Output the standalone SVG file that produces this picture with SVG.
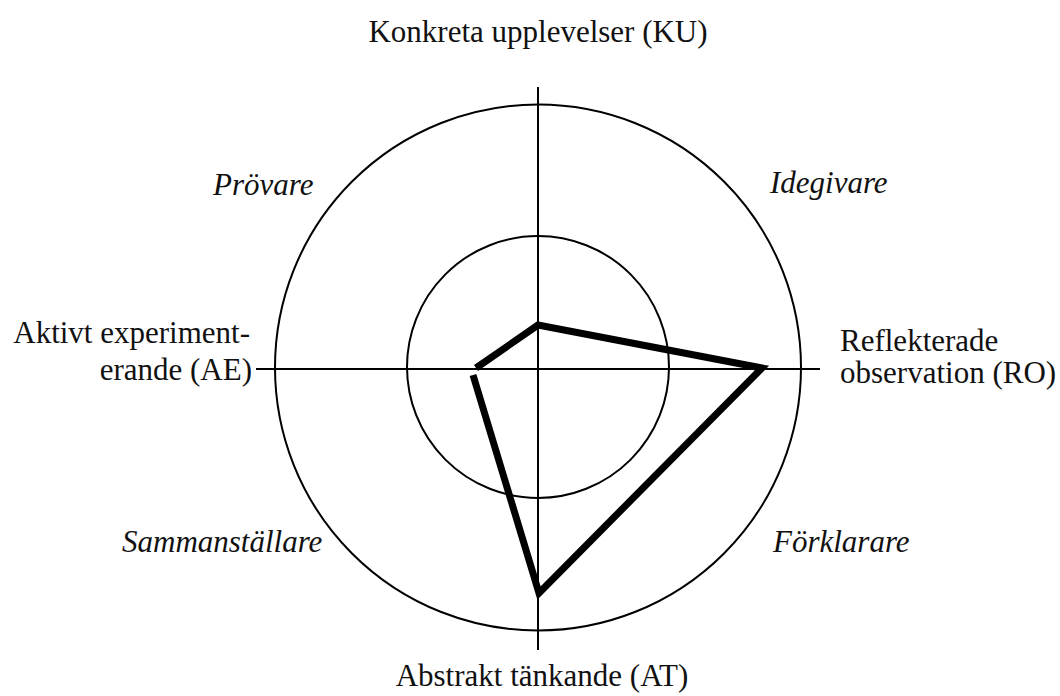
<svg xmlns="http://www.w3.org/2000/svg" width="1060" height="696" viewBox="0 0 1060 696">
<style>
.ln{fill:none;stroke:#000;stroke-width:2}
.t{font-family:'Liberation Serif','DejaVu Serif',serif;font-size:31px;fill:#111}
.i{font-style:italic}
.poly{fill:none;stroke:#000;stroke-width:7;stroke-linejoin:miter}
</style>
<rect width="1060" height="696" fill="#fff"/>
<g id="circles">
<circle class="ln" cx="538" cy="367.5" r="263"/>
<circle class="ln" cx="538" cy="367" r="131"/>
</g>
<g id="connectors">
<line class="ln" x1="538" y1="87" x2="538" y2="650"/>
<line class="ln" x1="256" y1="369" x2="820" y2="369"/>
<polyline class="poly" points="473,375 539,593 762,368 538,325 476,368"/>
</g>
<g id="node-KU"><text class="t" font-family="Liberation Serif" x="538" y="42" text-anchor="middle">Konkreta upplevelser (KU)</text></g>
<g id="node-AT"><text class="t" font-family="Liberation Serif" x="542" y="686" text-anchor="middle">Abstrakt tänkande (AT)</text></g>
<g id="node-AE"><text class="t" font-family="Liberation Serif" x="250" y="343" text-anchor="end">Aktivt experiment-</text><text class="t" font-family="Liberation Serif" x="252" y="380" text-anchor="end">erande (AE)</text></g>
<g id="node-RO"><text class="t" font-family="Liberation Serif" x="840" y="351">Reflekterade</text><text class="t" font-family="Liberation Serif" x="840" y="383">observation (RO)</text></g>
<g id="node-provare"><text class="t i" font-family="Liberation Serif" x="213" y="195">Prövare</text></g>
<g id="node-idegivare"><text class="t i" font-family="Liberation Serif" x="770" y="193">Idegivare</text></g>
<g id="node-sammanstallare"><text class="t i" font-family="Liberation Serif" x="122" y="552">Sammanställare</text></g>
<g id="node-forklarare"><text class="t i" font-family="Liberation Serif" x="773" y="552">Förklarare</text></g>
</svg>
